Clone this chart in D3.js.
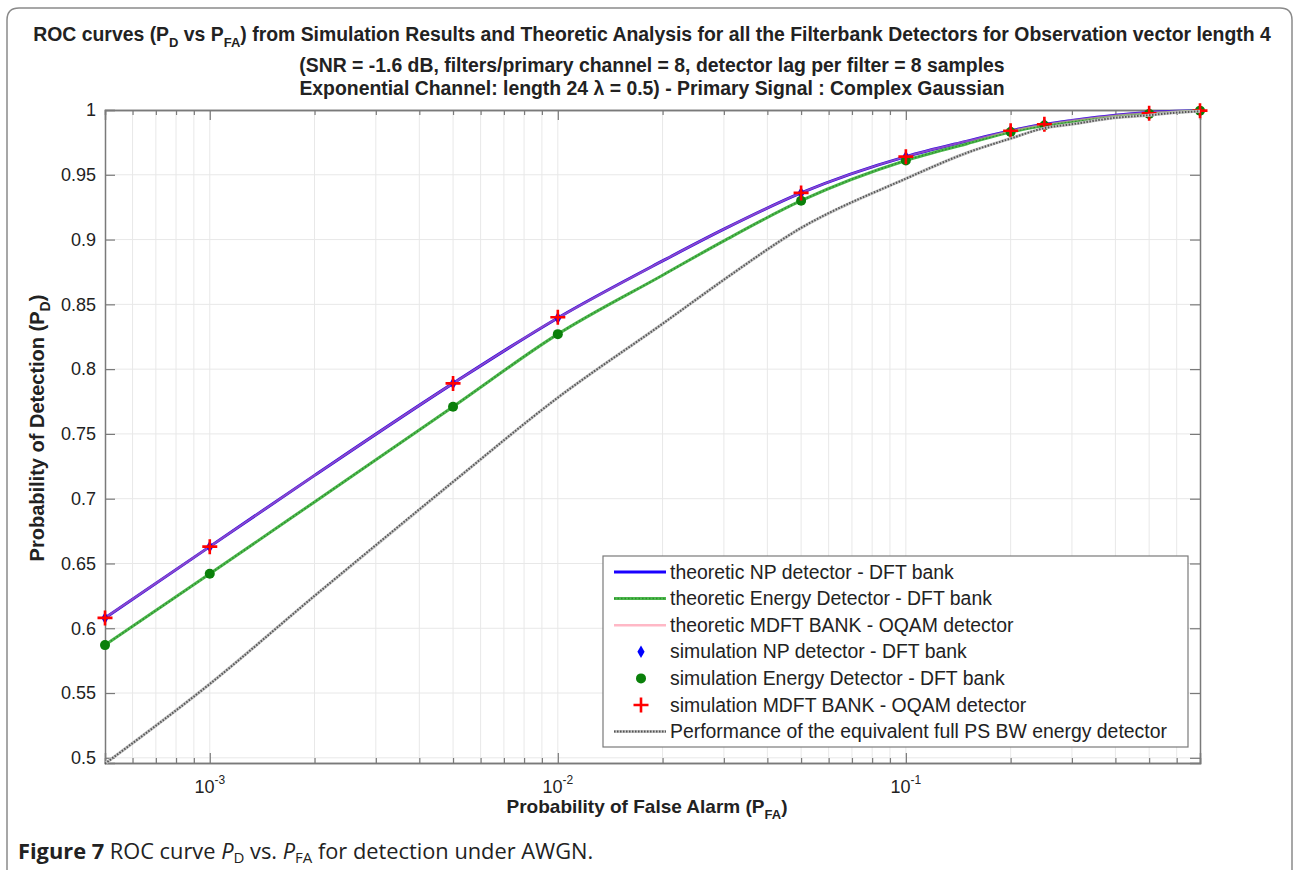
<!DOCTYPE html>
<html>
<head>
<meta charset="utf-8">
<script src="https://cdn.jsdelivr.net/npm/d3@7"></script>
<style>
  body { margin: 0; background: #fff; }
  text { font-family: "Liberation Sans", Arial, sans-serif; fill: #222; }
</style>
</head>
<body>
<div id="vis-holder"></div>
<script>
// simulation points (PFA, PD)
const SIM_PFA  = [5e-4, 1e-3, 5e-3, 1e-2, 5e-2, 0.1, 0.2, 0.25, 0.5, 0.7];
const SIM_NP   = [0.608, 0.663, 0.789, 0.8395, 0.936, 0.964, 0.984, 0.989, 0.9975, 0.9995];
const SIM_ED   = [0.587, 0.642, 0.771, 0.827, 0.930, 0.961, 0.983, 0.988, 0.997, 0.9995];
const SIM_MDFT = [0.608, 0.663, 0.789, 0.840, 0.936, 0.964, 0.984, 0.989, 0.9975, 0.9995];

// theoretic curves
const TH_PFA  = [5e-4, 1e-3, 2e-3, 5e-3, 1e-2, 2e-2, 3e-2, 5e-2, 0.1, 0.15, 0.2, 0.25, 0.3, 0.4, 0.5, 0.6, 0.7];
const TH_NP   = [0.608, 0.663, 0.718, 0.789, 0.8395, 0.8835, 0.908, 0.936, 0.964, 0.976, 0.984, 0.989, 0.992, 0.996, 0.998, 0.999, 0.9995];
const TH_ED   = [0.587, 0.642, 0.6975, 0.771, 0.827, 0.8725, 0.899, 0.930, 0.961, 0.974, 0.983, 0.988, 0.991, 0.995, 0.997, 0.9985, 0.9995];
const TH_MDFT = [0.608, 0.663, 0.718, 0.789, 0.8395, 0.8835, 0.908, 0.936, 0.964, 0.976, 0.984, 0.989, 0.992, 0.996, 0.998, 0.999, 0.9995];
const TH_FULL = [0.4955, 0.557, 0.625, 0.713, 0.778, 0.835, 0.869, 0.909, 0.947, 0.967, 0.978, 0.986, 0.989, 0.994, 0.996, 0.998, 0.999];

const Y_TICKS = [0.5, 0.55, 0.6, 0.65, 0.7, 0.75, 0.8, 0.85, 0.9, 0.95, 1];
const X_MAJOR = [1e-3, 1e-2, 1e-1];
const X_EXP   = ["-3", "-2", "-1"];

const LEGEND = [
  "theoretic NP detector - DFT bank",
  "theoretic Energy Detector - DFT bank",
  "theoretic MDFT BANK - OQAM detector",
  "simulation NP detector - DFT bank",
  "simulation Energy Detector - DFT bank",
  "simulation MDFT BANK - OQAM detector",
  "Performance of the equivalent full PS BW energy detector"
];

var W = 1294, H = 870;
var margin = {top: 110, right: 94, bottom: 107, left: 105},
    width = W - margin.left - margin.right,
    height = H - margin.top - margin.bottom;

var svg = d3.select("#vis-holder")
  .append("svg")
    .attr("width", W)
    .attr("height", H);

// outer frame (open at the bottom)
svg.append("path")
  .attr("d", "M7,880 V20 Q7,8 19,8 H1280 Q1292,8 1292,20 V880")
  .attr("fill", "none")
  .attr("stroke", "#8a8a8a")
  .attr("stroke-width", 1.5);

var plot = svg.append("g")
  .attr("transform", "translate(" + margin.left + "," + margin.top + ")");

var x = d3.scaleLog().domain([5e-4, 0.7]).range([0, width]);
var y = d3.scaleLinear().domain([0.496, 1]).range([height, 0]);

// all log ticks inside the domain
var xMinor = [];
[-4, -3, -2, -1].forEach(e => {
  for (let k = 1; k <= 9; k++) {
    let v = k * Math.pow(10, e);
    if (v > 5e-4 * 1.0001 && v < 0.7 * 0.9999) xMinor.push(v);
  }
});

// grid
plot.append("g").selectAll("line").data(xMinor).enter().append("line")
  .attr("x1", d => x(d)).attr("x2", d => x(d))
  .attr("y1", 0).attr("y2", height)
  .attr("stroke", "#e8e8e8").attr("stroke-width", 1);
plot.append("g").selectAll("line").data(Y_TICKS.filter(d => d < 1)).enter().append("line")
  .attr("x1", 0).attr("x2", width)
  .attr("y1", d => y(d)).attr("y2", d => y(d))
  .attr("stroke", "#e8e8e8").attr("stroke-width", 1);

// axes
var axisColor = "#7a7a7a";
var axL = plot.append("g").call(d3.axisLeft(y).tickValues(Y_TICKS).tickSize(-10).tickPadding(9).tickFormat(d3.format("")));
var axR = plot.append("g").attr("transform", "translate(" + width + ",0)")
  .call(d3.axisRight(y).tickValues(Y_TICKS).tickSize(-10).tickFormat(""));
var axB = plot.append("g").attr("transform", "translate(0," + height + ")")
  .call(d3.axisBottom(x).tickValues(X_MAJOR).tickSize(-10).tickFormat(""));
var axT = plot.append("g")
  .call(d3.axisTop(x).tickValues(X_MAJOR).tickSize(-10).tickFormat(""));
var axB2 = plot.append("g").attr("transform", "translate(0," + height + ")")
  .call(d3.axisBottom(x).tickValues(xMinor.filter(d => X_MAJOR.indexOf(d) < 0)).tickSize(-5).tickFormat(""));
var axT2 = plot.append("g")
  .call(d3.axisTop(x).tickValues(xMinor.filter(d => X_MAJOR.indexOf(d) < 0)).tickSize(-5).tickFormat(""));
[axL, axR, axB, axT, axB2, axT2].forEach(a => {
  a.select(".domain").attr("stroke", axisColor).attr("stroke-width", 1.5);
  a.selectAll(".tick line").attr("stroke", axisColor).attr("stroke-width", 1.2);
});
axL.selectAll(".tick text")
  .style("font-family", "'Liberation Sans', Arial, sans-serif")
  .style("font-size", "18px").attr("fill", "#222");

// x tick labels 10^n
var xl = plot.append("g").selectAll("text").data(X_MAJOR).enter().append("text")
  .attr("x", d => x(d)).attr("y", height + 30)
  .attr("text-anchor", "middle")
  .style("font-size", "18px");
xl.append("tspan").text("10");
xl.append("tspan").attr("dy", -9).style("font-size", "12px").text((d, i) => X_EXP[i]);

// line helpers
var line = d3.line().x(d => x(d[0])).y(d => y(d[1])).curve(d3.curveMonotoneX);
function pts(xs, ys) { return xs.map((v, i) => [v, ys[i]]); }

// theoretic NP (blue)
plot.append("path").datum(pts(TH_PFA, TH_NP)).attr("d", line)
  .attr("fill", "none").attr("stroke", "#2a00e0").attr("stroke-width", 3);
// theoretic energy detector (green, dotted look)
plot.append("path").datum(pts(TH_PFA, TH_ED)).attr("d", line)
  .attr("fill", "none").attr("stroke", "#4cb84c").attr("stroke-width", 3);
plot.append("path").datum(pts(TH_PFA, TH_ED)).attr("d", line)
  .attr("fill", "none").attr("stroke", "#2e8b2e").attr("stroke-width", 1.5)
  .attr("stroke-dasharray", "1.5,2");
// theoretic MDFT (pink, over the blue)
plot.append("path").datum(pts(TH_PFA, TH_MDFT)).attr("d", line)
  .attr("fill", "none").attr("stroke", "#ff9fb4").attr("stroke-width", 2)
  .attr("stroke-opacity", 0.45);

// simulation NP diamonds
plot.append("g").selectAll("path").data(pts(SIM_PFA, SIM_NP)).enter().append("path")
  .attr("d", d3.symbol(d3.symbolDiamond, 45))
  .attr("transform", d => "translate(" + x(d[0]) + "," + y(d[1]) + ")")
  .attr("fill", "#0000ff");
// simulation energy detector dots
plot.append("g").selectAll("circle").data(pts(SIM_PFA, SIM_ED)).enter().append("circle")
  .attr("cx", d => x(d[0])).attr("cy", d => y(d[1])).attr("r", 5)
  .attr("fill", "#0a800a");
// simulation MDFT crosses
var cross = "M-7.5,0H7.5M0,-7.5V7.5";
plot.append("g").selectAll("path").data(pts(SIM_PFA, SIM_MDFT)).enter().append("path")
  .attr("d", cross)
  .attr("transform", d => "translate(" + x(d[0]) + "," + y(d[1]) + ")")
  .attr("stroke", "#ff0000").attr("stroke-width", 2.6).attr("fill", "none");

// full PS BW energy detector (gray dotted)
plot.append("path").datum(pts(TH_PFA, TH_FULL)).attr("d", line)
  .attr("fill", "none").attr("stroke", "#c4c4c4").attr("stroke-width", 3);
plot.append("path").datum(pts(TH_PFA, TH_FULL)).attr("d", line)
  .attr("fill", "none").attr("stroke", "#555").attr("stroke-width", 2)
  .attr("stroke-dasharray", "1.5,1.5");

// legend
var lg = svg.append("g");
lg.append("rect").attr("x", 603).attr("y", 556).attr("width", 585).attr("height", 191)
  .attr("fill", "#fff").attr("stroke", "#7a7a7a").attr("stroke-width", 1.2);
var rowY = i => 572 + i * 26.6;
lg.selectAll("text").data(LEGEND).enter().append("text")
  .attr("x", 670).attr("y", (d, i) => rowY(i) + 6.5)
  .style("font-size", "19.4px").text(d => d);
lg.append("line").attr("x1", 614).attr("x2", 666).attr("y1", rowY(0)).attr("y2", rowY(0))
  .attr("stroke", "#1a00ff").attr("stroke-width", 3);
lg.append("line").attr("x1", 614).attr("x2", 666).attr("y1", rowY(1)).attr("y2", rowY(1))
  .attr("stroke", "#4cb84c").attr("stroke-width", 3);
lg.append("line").attr("x1", 614).attr("x2", 666).attr("y1", rowY(1)).attr("y2", rowY(1))
  .attr("stroke", "#2e8b2e").attr("stroke-width", 1.5).attr("stroke-dasharray", "1.5,2");
lg.append("line").attr("x1", 614).attr("x2", 666).attr("y1", rowY(2)).attr("y2", rowY(2))
  .attr("stroke", "#ffb8c6").attr("stroke-width", 2.5);
lg.append("path").attr("d", d3.symbol(d3.symbolDiamond, 45))
  .attr("transform", "translate(641," + rowY(3) + ")").attr("fill", "#0000ff");
lg.append("circle").attr("cx", 641).attr("cy", rowY(4)).attr("r", 5).attr("fill", "#0a800a");
lg.append("path").attr("d", cross).attr("transform", "translate(641," + rowY(5) + ")")
  .attr("stroke", "#ff0000").attr("stroke-width", 2.6);
lg.append("line").attr("x1", 614).attr("x2", 666).attr("y1", rowY(6)).attr("y2", rowY(6))
  .attr("stroke", "#c4c4c4").attr("stroke-width", 3);
lg.append("line").attr("x1", 614).attr("x2", 666).attr("y1", rowY(6)).attr("y2", rowY(6))
  .attr("stroke", "#555").attr("stroke-width", 2).attr("stroke-dasharray", "1.5,1.5");

// titles
var t1 = svg.append("text").attr("x", 652).attr("y", 41).attr("text-anchor", "middle")
  .style("font-size", "19.4px").style("font-weight", "bold");
t1.append("tspan").text("ROC curves (P");
t1.append("tspan").attr("dy", 6).style("font-size", "13px").text("D");
t1.append("tspan").attr("dy", -6).text(" vs P");
t1.append("tspan").attr("dy", 6).style("font-size", "13px").text("FA");
t1.append("tspan").attr("dy", -6).text(") from Simulation Results and Theoretic Analysis for all the Filterbank Detectors for Observation vector length 4");

svg.append("text").attr("x", 652).attr("y", 72).attr("text-anchor", "middle")
  .style("font-size", "19.4px").style("font-weight", "bold")
  .text("(SNR = -1.6 dB, filters/primary channel = 8, detector lag per filter = 8 samples");
svg.append("text").attr("x", 652).attr("y", 95).attr("text-anchor", "middle")
  .style("font-size", "19.4px").style("font-weight", "bold")
  .text("Exponential Channel: length 24 \u03bb = 0.5) - Primary Signal : Complex Gaussian");

// axis labels
var xt = svg.append("text").attr("x", 647).attr("y", 813).attr("text-anchor", "middle")
  .style("font-size", "19px").style("font-weight", "bold");
xt.append("tspan").text("Probability of False Alarm (P");
xt.append("tspan").attr("dy", 6).style("font-size", "13px").text("FA");
xt.append("tspan").attr("dy", -6).text(")");

var yt = svg.append("text")
  .attr("transform", "translate(44,428) rotate(-90)")
  .attr("text-anchor", "middle")
  .style("font-size", "20px").style("font-weight", "bold");
yt.append("tspan").text("Probability of Detection (P");
yt.append("tspan").attr("dy", 6).style("font-size", "14px").text("D");
yt.append("tspan").attr("dy", -6).text(")");

// figure caption
var cap = svg.append("text").attr("x", 18).attr("y", 859)
  .style("font-family", "'Open Sans', 'Noto Sans', sans-serif").style("font-size", "21.8px");
cap.append("tspan").style("font-weight", "bold").text("Figure 7");
cap.append("tspan").text(" ROC curve ");
cap.append("tspan").style("font-style", "italic").text("P");
cap.append("tspan").attr("dy", 4).style("font-size", "15px").text("D");
cap.append("tspan").attr("dy", -4).text(" vs. ");
cap.append("tspan").style("font-style", "italic").text("P");
cap.append("tspan").attr("dy", 4).style("font-size", "15px").text("FA");
cap.append("tspan").attr("dy", -4).text(" for detection under AWGN.");
</script>
</body>
</html>
